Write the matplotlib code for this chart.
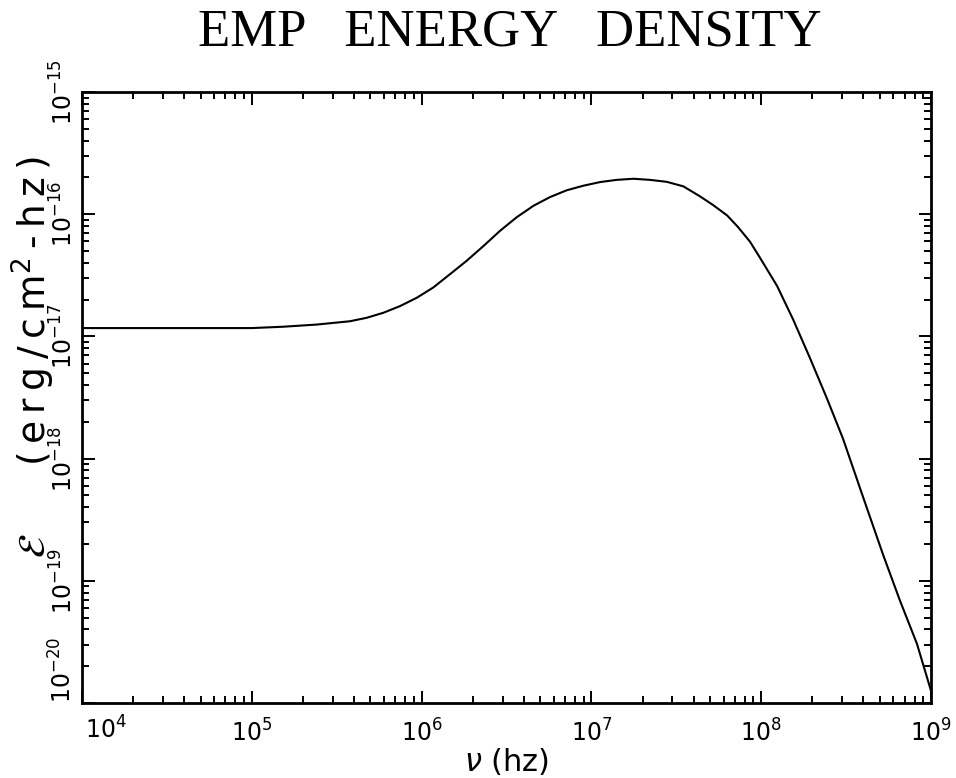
import matplotlib.pyplot as plt
import numpy as np
from matplotlib.ticker import LogLocator, NullFormatter

# frequency (hz) and energy density
freq = [1e4, 1e5, 1.53e5, 2.41e5, 3.78e5, 4.75e5, 5.95e5, 7.46e5, 9.36e5,
        1.17e6, 1.47e6, 1.84e6, 2.31e6, 2.9e6, 3.63e6, 4.55e6, 5.7e6, 7.16e6,
        8.96e6, 1.12e7, 1.41e7, 1.77e7, 2.21e7, 2.78e7, 3.48e7, 4.36e7,
        5.2e7, 6.3e7, 7.3e7, 8.59e7, 9.84e7, 1.24e8, 1.54e8, 1.94e8, 2.44e8,
        3.03e8, 3.98e8, 5.21e8, 6.56e8, 8.26e8, 1e9]
energy = [1.17e-17, 1.17e-17, 1.20e-17, 1.25e-17, 1.33e-17, 1.42e-17,
          1.56e-17, 1.77e-17, 2.07e-17, 2.51e-17, 3.23e-17, 4.15e-17,
          5.48e-17, 7.32e-17, 9.44e-17, 1.17e-16, 1.38e-16, 1.57e-16,
          1.71e-16, 1.83e-16, 1.91e-16, 1.95e-16, 1.91e-16, 1.84e-16,
          1.69e-16, 1.40e-16, 1.19e-16, 9.77e-17, 7.85e-17, 5.96e-17, 4.4e-17,
          2.59e-17, 1.38e-17, 6.62e-18, 3.1e-18, 1.46e-18, 4.85e-19,
          1.65e-19, 6.9e-20, 3.06e-20, 1.26e-20]

x_ticks = [1e4, 1e5, 1e6, 1e7, 1e8, 1e9]
x_labels = ['$10^{4}$', '$10^{5}$', '$10^{6}$', '$10^{7}$', '$10^{8}$', '$10^{9}$']
y_ticks = [1e-20, 1e-19, 1e-18, 1e-17, 1e-16, 1e-15]
y_labels = ['$10^{-20}$', '$10^{-19}$', '$10^{-18}$', '$10^{-17}$',
            '$10^{-16}$', '$10^{-15}$']

W, H = 956, 778
fig = plt.figure(figsize=(W / 100, H / 100), dpi=100)
ax = fig.add_axes([82 / W, 1 - 703 / H, (931 - 82) / W, (703 - 92) / H])

ax.plot(freq, energy, color='black', lw=1.5)

ax.set_xscale('log')
ax.set_yscale('log')
ax.set_xlim(1e4, 1e9)
ax.set_ylim(1e-20, 1e-15)

# edge labels are nudged inward like the original, so draw them separately
ax.set_xticks(x_ticks, [''] + x_labels[1:])
ax.set_yticks(y_ticks, [''] + y_labels[1:])
ax.xaxis.set_minor_locator(LogLocator(base=10, subs=np.arange(2, 10), numticks=20))
ax.yaxis.set_minor_locator(LogLocator(base=10, subs=np.arange(2, 10), numticks=20))
ax.xaxis.set_minor_formatter(NullFormatter())
ax.yaxis.set_minor_formatter(NullFormatter())

ax.tick_params(which='both', direction='in', top=True, right=True, width=1.4)
ax.tick_params(which='major', length=9)
ax.tick_params(which='minor', length=5)
ax.tick_params(axis='x', labelsize=17, pad=12)
ax.tick_params(axis='y', labelsize=17, pad=3, labelrotation=90)
for lab in ax.get_yticklabels():
    lab.set_va('center')

ax.annotate(x_labels[0], xy=(x_ticks[0], 0), xycoords=('data', 'axes fraction'),
            xytext=(17, -10), textcoords='offset points', ha='center', va='top',
            fontsize=17)
ax.annotate(y_labels[0], xy=(0, y_ticks[0]), xycoords=('axes fraction', 'data'),
            xytext=(-4, 24), textcoords='offset points', ha='right', va='center',
            rotation=90, fontsize=17)

for s in ax.spines.values():
    s.set_linewidth(2)

ax.set_xlabel(r'$\nu$ (hz)', fontsize=22)
ax.xaxis.set_label_coords(0.5, -0.095)
ax.xaxis.label.set_va('center')

# the original label is set wide, so pad the letters a little
ts = '\u2009'
ylab = r'$\mathcal{E}$' + '      ' + ts.join('(erg/cm') + r'$^{2}$' + ts + ts.join('-hz)')
ax.set_ylabel(ylab, fontsize=27)
ax.yaxis.set_label_coords(-0.057, 0.566)
ax.yaxis.label.set_va('center')

fig.text(510 / W, 1 - 32 / H, 'EMP   ENERGY   DENSITY', ha='center', va='center',
         fontsize=38, family=['Liberation Serif', 'DejaVu Serif'])

fig.savefig('out.png', dpi=100)
